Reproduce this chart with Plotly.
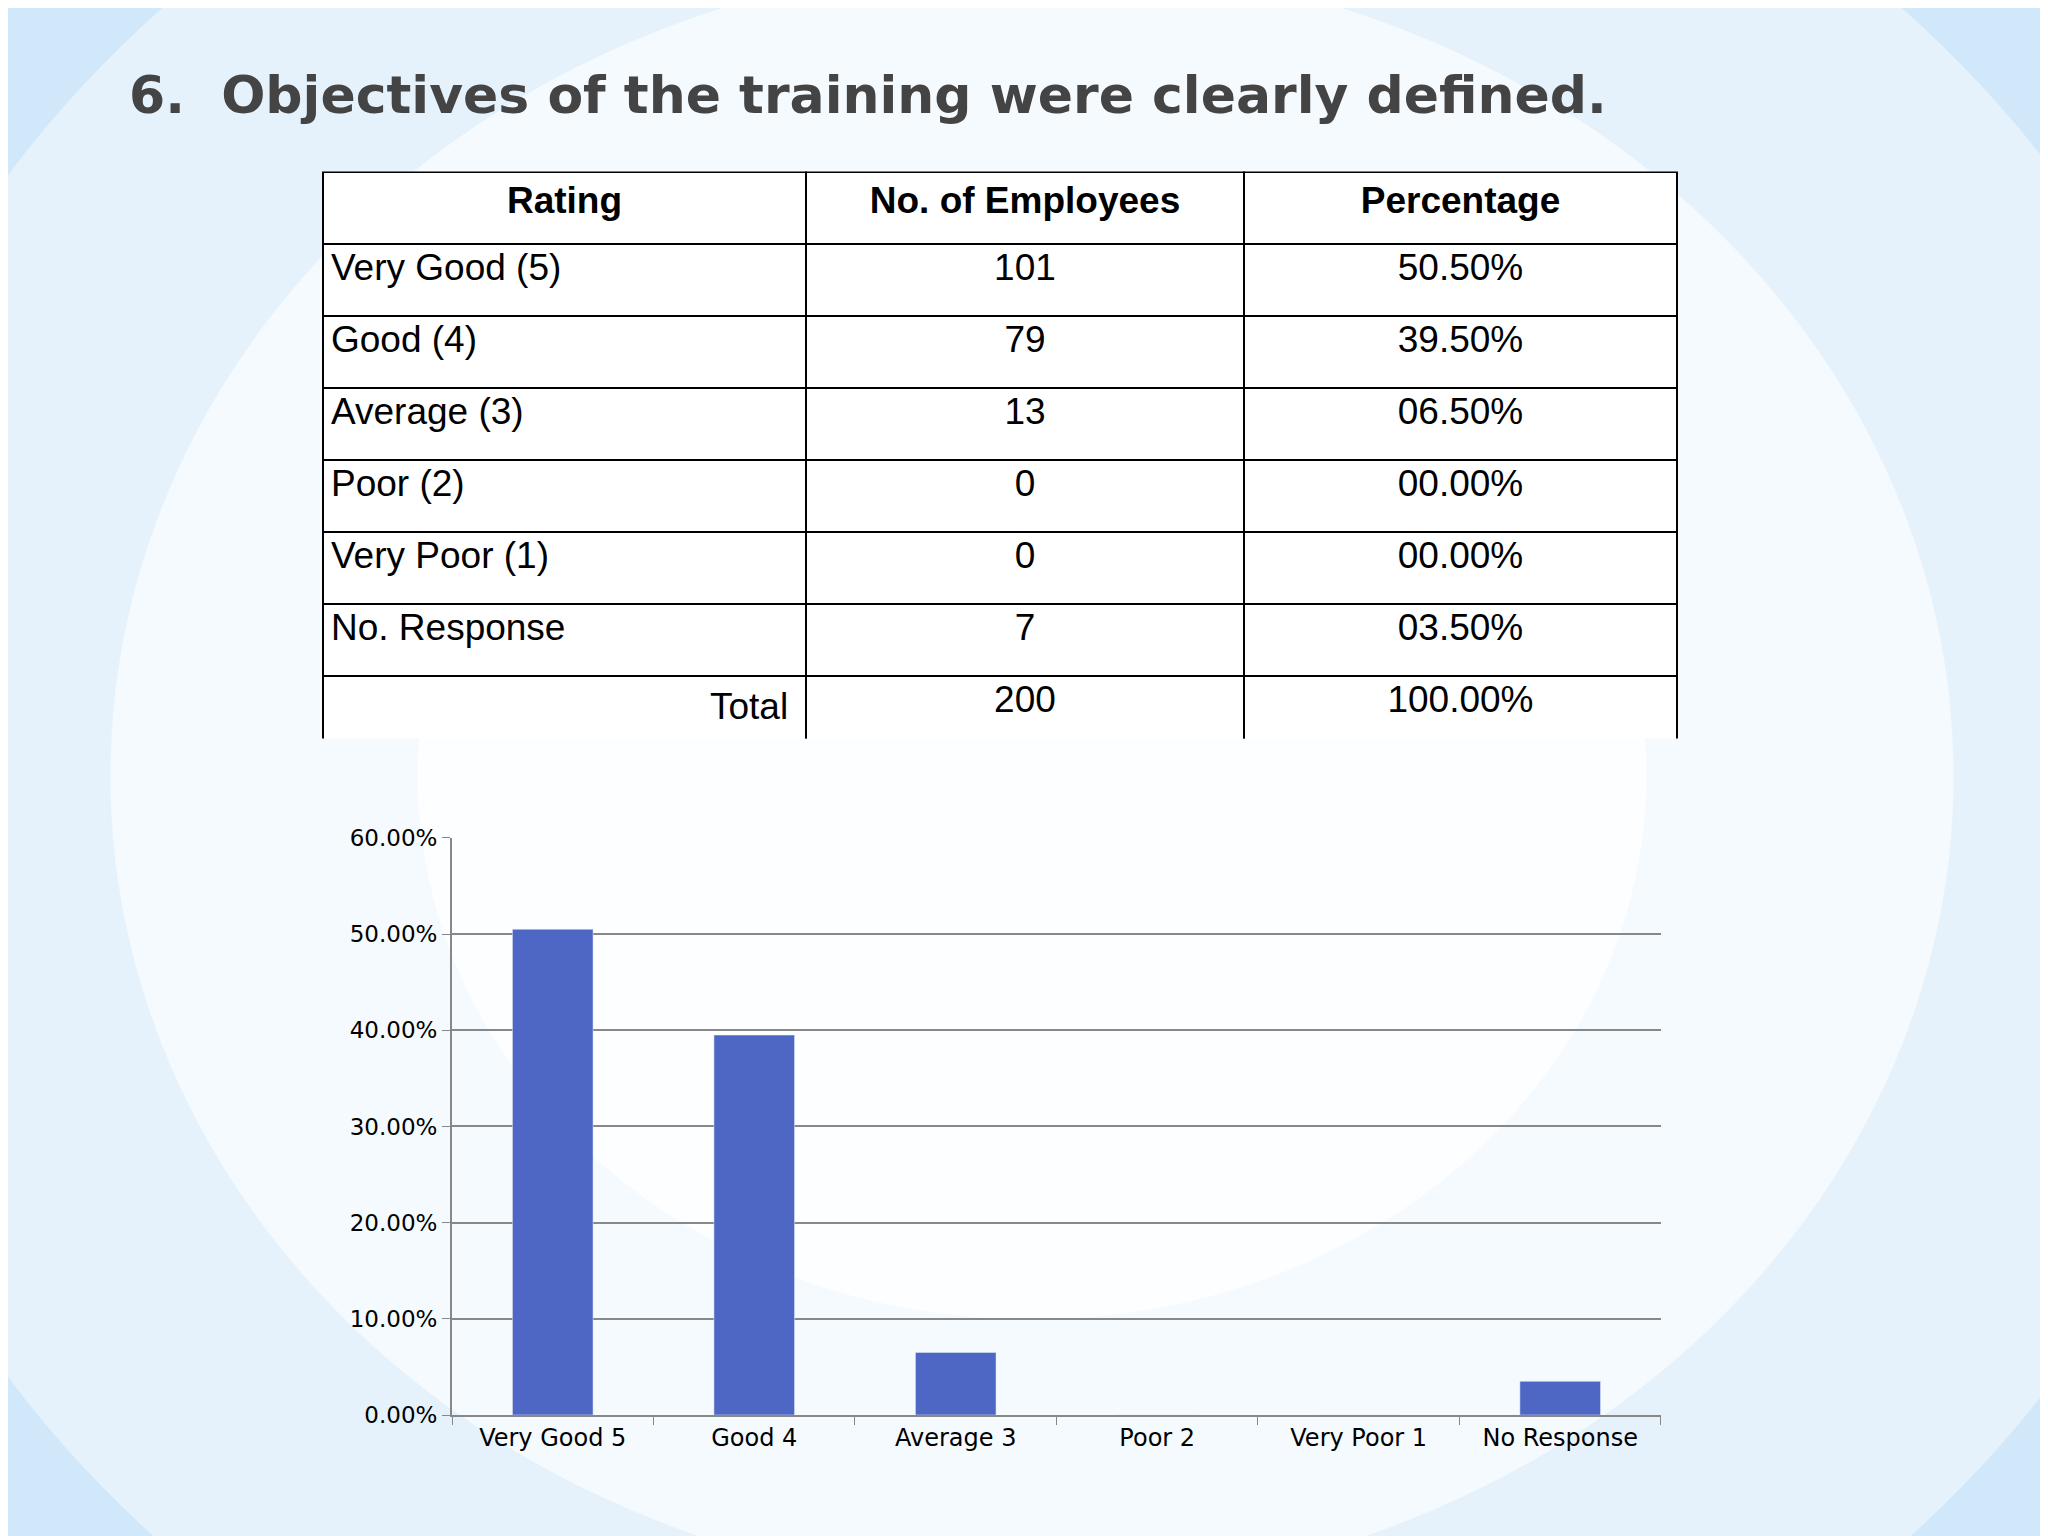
import plotly.graph_objects as go

ratings = ["Very Good (5)", "Good (4)", "Average (3)", "Poor (2)", "Very Poor (1)", "No. Response", ""]
total_label = "Total"
employees = ["101", "79", "13", "0", "0", "7", "200"]
pct_text = ["50.50%", "39.50%", "06.50%", "00.00%", "00.00%", "03.50%", "100.00%"]
categories = ["Very Good 5", "Good 4", "Average 3", "Poor 2", "Very Poor 1", "No Response"]
percentages = [0.505, 0.395, 0.065, 0.0, 0.0, 0.035]

fig = go.Figure()

fig.add_trace(go.Table(
    domain=dict(x=[0.1538, 0.815], y=[0.5247, 0.8997]),
    columnwidth=[483, 438, 433],
    header=dict(values=["<b>Rating</b>", "<b>No. of Employees</b>", "<b>Percentage</b>"],
                fill_color="white", line_color="black", line_width=2,
                font=dict(family="Liberation Sans", size=37, color="black"),
                align="center", height=72),
    cells=dict(values=[ratings, employees, pct_text],
               fill_color="white", line_color="black", line_width=2,
               font=dict(family="Liberation Sans", size=37, color="black"),
               align=["left", "center", "center"], height=72),
))

fig.add_trace(go.Bar(x=categories, y=percentages, marker_color="#4F67C4",
                     width=0.4, xaxis="x", yaxis="y"))

shapes = []
for r, a in [(0.75, 0.35), (0.6, 0.45), (0.45, 0.6), (0.3, 0.8)]:
    shapes.append(dict(type="circle", xref="paper", yref="paper", layer="below",
                       x0=0.5 - r, x1=0.5 + r, y0=0.5 - r * 1.2, y1=0.5 + r * 1.2,
                       fillcolor=f"rgba(255,255,255,{a})", line_width=0))

fig.update_layout(
    width=2048, height=1536, margin=dict(l=0, r=0, t=0, b=0),
    paper_bgcolor="#b7dcf7", plot_bgcolor="rgba(0,0,0,0)",
    showlegend=False, shapes=shapes,
    xaxis=dict(domain=[0.2168, 0.8071], anchor="y", showline=True, linecolor="#888",
               linewidth=2, ticks="outside", tickson="boundaries", ticklen=8, tickcolor="#888",
               tickfont=dict(family="DejaVu Sans", size=24, color="black")),
    yaxis=dict(domain=[0.0768, 0.459], anchor="x", range=[0, 0.6], dtick=0.1,
               tickformat=".2%", showline=True, linecolor="#888", linewidth=2,
               gridcolor="#888", gridwidth=2, ticks="outside", ticklen=8, tickcolor="#888",
               tickfont=dict(family="DejaVu Sans", size=23, color="black"), zeroline=False),
    annotations=[
        dict(text="<b>6.  Objectives of the training were clearly defined.</b>",
             xref="paper", yref="paper", x=0.058, y=0.951, xanchor="left", yanchor="middle",
             showarrow=False, font=dict(family="DejaVu Sans", size=52, color="#444")),
        dict(text=total_label, xref="paper", yref="paper", x=0.382, y=0.546,
             xanchor="right", yanchor="middle", showarrow=False,
             font=dict(family="Liberation Sans", size=37, color="black")),
    ],
)

fig.write_html("out.html")
